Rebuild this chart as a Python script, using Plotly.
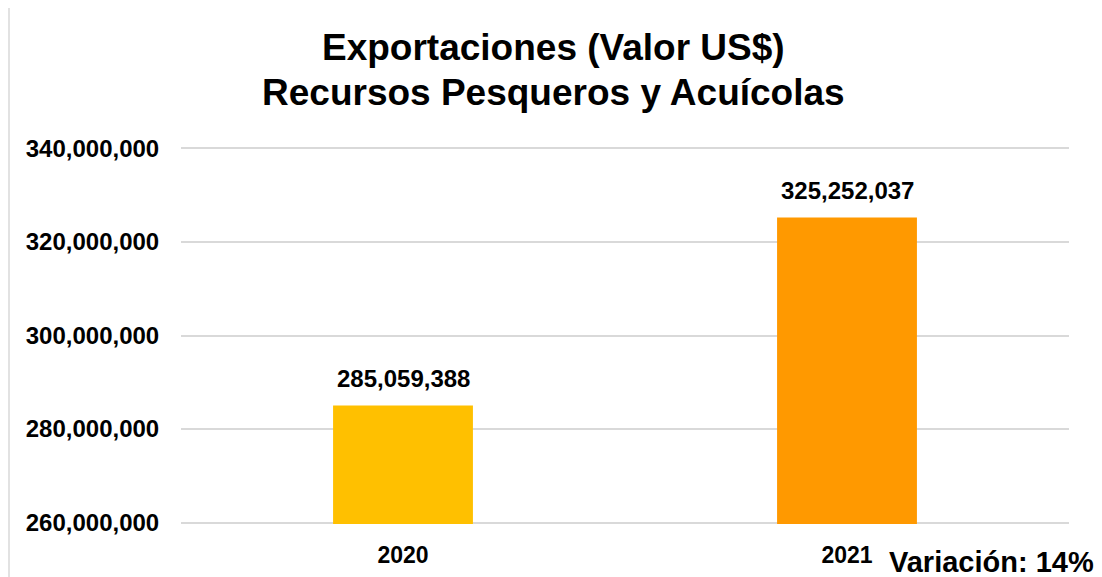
import plotly.graph_objects as go

# Data
years = ["2020", "2021"]
export_values = [285059388, 325252037]
bar_colors = ["#FFC000", "#FF9900"]
y_ticks = [260000000, 280000000, 300000000, 320000000, 340000000]
title_lines = ["Exportaciones (Valor US$)", "Recursos Pesqueros y Acuícolas"]
variation_note = "Variación: 14%"

FONT = "Arial, Liberation Sans, sans-serif"

fig = go.Figure()
fig.add_trace(go.Bar(
    x=years,
    y=export_values,
    marker=dict(color=bar_colors, line=dict(width=0)),
))

# Value labels above the bars (category index used as x position)
for i, val in enumerate(export_values):
    fig.add_annotation(
        x=i, y=val, text=f"{val:,}", showarrow=False,
        yanchor="bottom", yshift=11,
        font=dict(family=FONT, size=24, color="black", weight="bold"),
    )

# Two-line title
fig.add_annotation(
    text=title_lines[0], xref="paper", yref="paper", x=0.42, y=1.265,
    xanchor="center", yanchor="middle", showarrow=False,
    font=dict(family=FONT, size=37, color="black", weight="bold"),
)
fig.add_annotation(
    text=title_lines[1], xref="paper", yref="paper", x=0.42, y=1.145,
    xanchor="center", yanchor="middle", showarrow=False,
    font=dict(family=FONT, size=37, color="black", weight="bold"),
)

# Variation note bottom right
fig.add_annotation(
    text=variation_note, xref="paper", yref="paper", x=1.03, y=-0.10,
    xanchor="right", yanchor="middle", showarrow=False,
    font=dict(family=FONT, size=29, color="black", weight="bold"),
)

# Light grey frame around the chart area
fig.add_shape(
    type="rect", xref="paper", yref="paper",
    x0=-0.1937, x1=1.0315, y0=-0.2, y1=1.371,
    line=dict(color="#D9D9D9", width=1.5), layer="below",
)

fig.update_layout(
    width=1102, height=577,
    margin=dict(l=173, r=41, t=139, b=61, autoexpand=False),
    paper_bgcolor="white", plot_bgcolor="white",
    bargap=0.685,
    showlegend=False,
    font=dict(family=FONT, size=24, color="black"),
)
fig.update_xaxes(
    type="category", automargin=False, range=[-0.5, len(years) - 0.5],
    showgrid=False, showline=False, zeroline=False,
    ticks="outside", ticklen=10, tickcolor="rgba(0,0,0,0)",
    tickfont=dict(family=FONT, size=23, color="black", weight="bold"),
)
fig.update_yaxes(
    range=[259700000, 340300000], tickvals=y_ticks, tickformat=",",
    automargin=False,
    showgrid=True, gridcolor="#D9D9D9", gridwidth=1.5,
    zeroline=False, showline=False,
    ticks="outside", ticklen=16, tickcolor="rgba(0,0,0,0)",
    tickfont=dict(family=FONT, size=24, color="black", weight="bold"),
)

fig.write_html("out.html")
